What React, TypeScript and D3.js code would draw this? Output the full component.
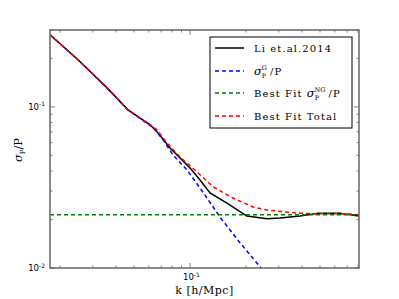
import React from "react";
import * as d3 from "d3";

const kLi = [0.01767, 0.025, 0.0358, 0.0464, 0.061, 0.0665, 0.0781, 0.1, 0.1132, 0.128, 0.158, 0.202, 0.26, 0.305, 0.39, 0.488, 0.64, 0.81];
const sLi = [0.28, 0.196, 0.1312, 0.0958, 0.0773, 0.07, 0.0556, 0.0418, 0.0352, 0.0292, 0.0253, 0.021, 0.0202, 0.0204, 0.021, 0.0219, 0.0219, 0.021];

const kG = [0.01767, 0.025, 0.0358, 0.0464, 0.061, 0.0633, 0.0716, 0.081, 0.0963, 0.1132, 0.145, 0.186, 0.241, 0.25];
const sG = [0.28, 0.196, 0.1312, 0.0958, 0.0765, 0.0751, 0.0624, 0.0503, 0.0406, 0.0314, 0.0207, 0.0143, 0.01, 0.0095];

const kNG = [0.01767, 0.81];
const sNG = [0.0214, 0.0214];

const kTot = [0.01767, 0.025, 0.0358, 0.0464, 0.061, 0.0665, 0.0752, 0.0884, 0.109, 0.133, 0.17, 0.218, 0.26, 0.376, 0.482, 0.664, 0.81];
const sTot = [0.28, 0.196, 0.1312, 0.0958, 0.0775, 0.072, 0.0597, 0.0489, 0.0395, 0.0319, 0.0272, 0.0239, 0.0229, 0.0219, 0.0217, 0.0217, 0.0214];

const xMinorTicks = [0.02, 0.03, 0.04, 0.05, 0.06, 0.07, 0.08, 0.09, 0.2, 0.3, 0.4, 0.5, 0.6, 0.7, 0.8];
const xMajorTicks = [0.1];
const yMinorTicks = [0.02, 0.03, 0.04, 0.05, 0.06, 0.07, 0.08, 0.09, 0.2, 0.3];
const yMajorTicks = [0.01, 0.1];

const W = 399, H = 299;
const L = 50, R = 359, T = 30, B = 268;

export default function App() {
  const x = d3.scaleLog().domain([0.01767, 0.81]).range([L, R]);
  const y = d3.scaleLog().domain([0.01, 0.3]).range([B, T]);
  const line = (ks: number[], ss: number[]) =>
    d3.line<number>().x((_, i) => x(ks[i])).y((_, i) => y(ss[i]))(ks.map((_, i) => i)) || "";

  const series = [
    { k: kLi, s: sLi, color: "#000000", dash: "" },
    { k: kG, s: sG, color: "#0000ff", dash: "4,3" },
    { k: kNG, s: sNG, color: "#008000", dash: "4,3" },
    { k: kTot, s: sTot, color: "#ff0000", dash: "4,3" },
  ];
  const spine = "#666";
  const serif = "'DejaVu Serif', serif";
  const sans = "'DejaVu Sans', sans-serif";
  const ls = 1.1;
  const fs = 10;

  const legendY = [48, 71, 93, 116];

  return (
    <svg width={W} height={H} style={{ position: "absolute", left: 0, top: 0, background: "#fff" }}>
      <defs>
        <clipPath id="plotclip">
          <rect x={L} y={T} width={R - L} height={B - T} />
        </clipPath>
      </defs>
      <rect x={0} y={0} width={W} height={H} fill="#fff" />
      <g clipPath="url(#plotclip)">
        {series.map((s, i) => (
          <path key={i} d={line(s.k, s.s)} fill="none" stroke={s.color} strokeWidth={1.5} strokeDasharray={s.dash} />
        ))}
      </g>
      {xMinorTicks.map((t) => (
        <g key={"xm" + t} stroke={spine} strokeWidth={0.8}>
          <line x1={x(t)} x2={x(t)} y1={B} y2={B - 2.5} />
          <line x1={x(t)} x2={x(t)} y1={T} y2={T + 2.5} />
        </g>
      ))}
      {xMajorTicks.map((t) => (
        <g key={"xM" + t} stroke={spine} strokeWidth={0.8}>
          <line x1={x(t)} x2={x(t)} y1={B} y2={B - 5} />
          <line x1={x(t)} x2={x(t)} y1={T} y2={T + 5} />
        </g>
      ))}
      {yMinorTicks.map((t) => (
        <g key={"ym" + t} stroke={spine} strokeWidth={0.8}>
          <line x1={L} x2={L + 2.5} y1={y(t)} y2={y(t)} />
          <line x1={R} x2={R - 2.5} y1={y(t)} y2={y(t)} />
        </g>
      ))}
      {yMajorTicks.map((t) => (
        <g key={"yM" + t} stroke={spine} strokeWidth={0.8}>
          <line x1={L} x2={L + 5} y1={y(t)} y2={y(t)} />
          <line x1={R} x2={R - 5} y1={y(t)} y2={y(t)} />
        </g>
      ))}
      <rect x={L} y={T} width={R - L} height={B - T} fill="none" stroke={spine} strokeWidth={1.5} />
      {yMajorTicks.map((t) => (
        <text key={"yl" + t} x={L - 5} y={y(t) + 3} textAnchor="end" fontFamily={sans} fontSize={8.5} fill="#000">
          10<tspan fontSize={6} dy={-3.5}>{"-" + Math.round(-Math.log10(t))}</tspan>
        </text>
      ))}
      {xMajorTicks.map((t) => (
        <text key={"xl" + t} x={x(t) - 7} y={B + 12} fontFamily={sans} fontSize={8.5} fill="#000">
          10<tspan fontSize={6} dy={-3.5}>{"-" + Math.round(-Math.log10(t))}</tspan>
        </text>
      ))}
      <text x={(L + R) / 2} y={294} textAnchor="middle" fontFamily={serif} fontSize={11} fill="#000" letterSpacing={0.5}>
        k [h/Mpc]
      </text>
      <text transform={`translate(22,150) rotate(-90)`} textAnchor="middle" fontFamily={serif} fontSize={11.5} fill="#000">
        <tspan fontStyle="italic">σ</tspan>
        <tspan fontSize={7} dy={2.5}>P</tspan>
        <tspan dy={-2.5}>/P</tspan>
      </text>
      <rect x={210} y={37} width={142} height={91} fill="#fff" stroke="#000" strokeWidth={1} />
      {series.map((s, i) => (
        <line key={"ll" + i} x1={215} x2={244} y1={legendY[i]} y2={legendY[i]} stroke={s.color} strokeWidth={1.5} strokeDasharray={s.dash} />
      ))}
      <text x={254} y={legendY[0] + 4} fontFamily={serif} fontSize={fs} fill="#000" letterSpacing={ls}>
        Li et.al.2014
      </text>
      <text x={254} y={legendY[1] + 4} fontFamily={serif} fontSize={fs} fill="#000">
        <tspan fontStyle="italic" fontSize={11.5}>σ</tspan>
        <tspan fontSize={6.5} dy={3}>P</tspan>
        <tspan fontSize={6.5} dx={-4.5} dy={-8.5}>G</tspan>
        <tspan dx={3} dy={5.5} letterSpacing={ls}>/P</tspan>
      </text>
      <text x={254} y={legendY[2] + 4} fontFamily={serif} fontSize={fs} fill="#000">
        <tspan letterSpacing={ls}>Best Fit </tspan>
        <tspan fontStyle="italic" fontSize={11.5}>σ</tspan>
        <tspan fontSize={6.5} dy={3}>P</tspan>
        <tspan fontSize={6.5} dx={-4.5} dy={-8.5}>NG</tspan>
        <tspan dx={3} dy={5.5} letterSpacing={ls}>/P</tspan>
      </text>
      <text x={254} y={legendY[3] + 4} fontFamily={serif} fontSize={fs} fill="#000" letterSpacing={ls}>
        Best Fit Total
      </text>
    </svg>
  );
}
